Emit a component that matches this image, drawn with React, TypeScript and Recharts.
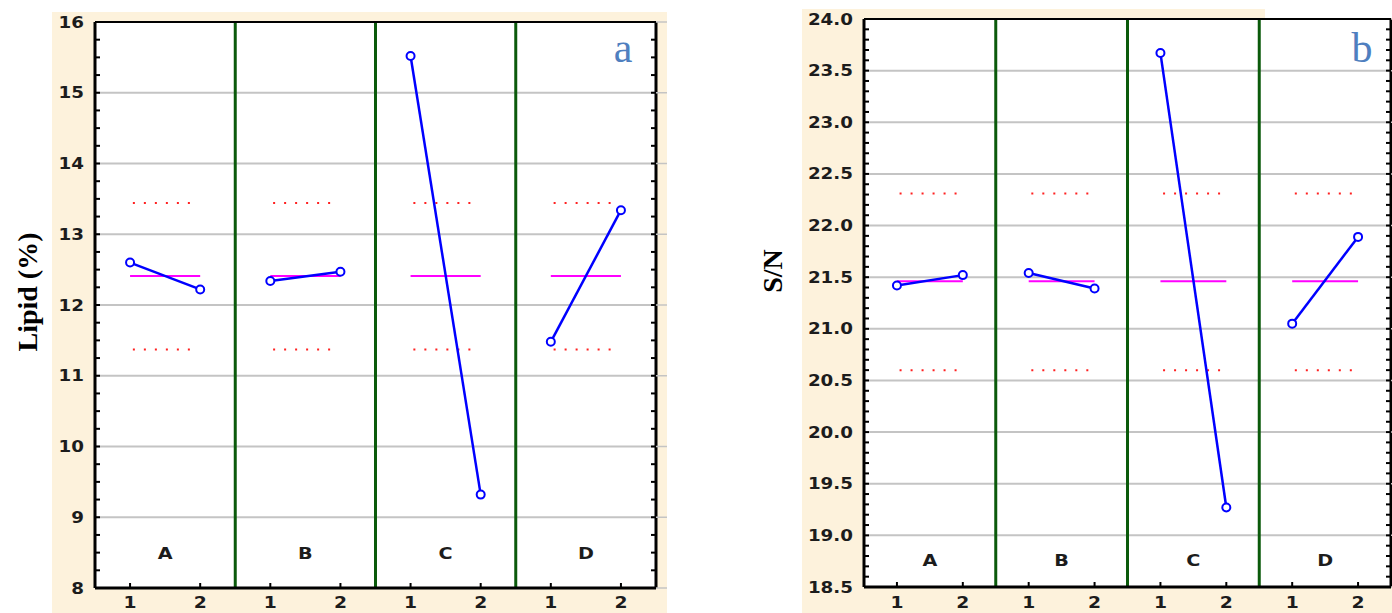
import React from 'react';
import { LineChart, Line, XAxis, YAxis, ReferenceLine, ReferenceArea, LabelList } from 'recharts';

// ---------- data ----------
const categories = ['A', 'B', 'C', 'D'];
const levelLabels = ['1', '2'];

const lipidLevel1 = [12.6, 12.34, 15.52, 11.48];
const lipidLevel2 = [12.22, 12.47, 9.32, 13.34];
const lipidMean = 12.41;
const lipidUpper = 13.44;
const lipidLower = 11.37;
const lipidMajorTicks = [8, 9, 10, 11, 12, 13, 14, 15, 16];

const snLevel1 = [21.42, 21.54, 23.67, 21.05];
const snLevel2 = [21.52, 21.39, 19.27, 21.89];
const snMean = 21.46;
const snUpper = 22.31;
const snLower = 20.6;
const snMajorTicks = [18.5, 19.0, 19.5, 20.0, 20.5, 21.0, 21.5, 22.0, 22.5, 23.0, 23.5, 24.0];

// ---------- helpers ----------
const minorList = (min: number, max: number, step: number) => {
  const out: number[] = [];
  const n = Math.round((max - min) / step);
  for (let i = 0; i <= n; i++) out.push(Math.round((min + i * step) * 1000) / 1000);
  return out;
};

const TICK_FONT = { fontFamily: 'DejaVu Sans', fontWeight: 'bold' as const, fontSize: 15, fill: '#1c1c1c' };
const BLUE = '#0000ff';
const MAGENTA = '#ff00ff';
const RED = '#ff2020';
const GREEN = '#0b5a0b';
const GRID = '#c4c4c4';

const isMajor = (majors: number[], v: number) => majors.some((m) => Math.abs(m - v) < 1e-6);

type PanelProps = {
  width: number;
  height: number;
  margin: { top: number; right: number; bottom: number; left: number };
  level1: number[];
  level2: number[];
  mean: number;
  upper: number;
  lower: number;
  domain: [number, number];
  majors: number[];
  minorStep: number;
  fmt: (v: number) => string;
  catY: number;
  redFrom: number;
  redTo: number;
  labelDrop: number;
};

const Panel = (p: PanelProps) => {
  const allTicks = minorList(p.domain[0], p.domain[1], p.minorStep);
  const levelTicks: number[] = [];
  categories.forEach((_, i) => {
    levelTicks.push(i + 0.25, i + 0.75);
  });

  const LeftTick = (props: any) => {
    const { x, y, payload } = props;
    const v = payload.value;
    const maj = isMajor(p.majors, v);
    return (
      <g>
        <line x1={x} x2={x + 5} y1={y} y2={y} stroke="#000" strokeWidth={2} />
        {maj && (
          <text x={0} y={0} transform={`translate(${x - 11},${y + 5.5}) scale(1.22,1)`} textAnchor="end" {...TICK_FONT}>
            {p.fmt(v)}
          </text>
        )}
      </g>
    );
  };
  const RightTick = (props: any) => {
    const { x, y, payload } = props;
    const v = payload.value;
    const maj = isMajor(p.majors, v);
    return (
      <g>
        {maj && <line x1={x} x2={x + 11} y1={y} y2={y} stroke={GRID} strokeWidth={1.5} />}
        <line x1={x} x2={x - 5} y1={y} y2={y} stroke="#000" strokeWidth={2} />
      </g>
    );
  };
  const BottomTick = (props: any) => {
    const { x, y, index } = props;
    return (
      <g>
        <line x1={x} x2={x} y1={y} y2={y - 5} stroke="#000" strokeWidth={2} />
        <text x={0} y={0} transform={`translate(${x},${y + p.labelDrop}) scale(1.25,1)`} textAnchor="middle" {...TICK_FONT}>
          {levelLabels[index % 2]}
        </text>
      </g>
    );
  };
  const TopTick = (props: any) => {
    const { x, y } = props;
    return <line x1={x} x2={x} y1={y} y2={y + 5} stroke="#000" strokeWidth={2} />;
  };
  const CatLabel = (props: any) => {
    const { x, y, value } = props;
    return (
      <text x={0} y={0} transform={`translate(${x},${y + 6}) scale(1.2,1)`} textAnchor="middle" fontFamily="DejaVu Sans" fontWeight="bold" fontSize={16} fill="#1c1c1c">
        {value}
      </text>
    );
  };

  const catData = categories.map((c, i) => ({ x: i + 0.5, y: p.catY, name: c }));

  return (
    <LineChart width={p.width} height={p.height} margin={p.margin}>
      <XAxis xAxisId={0} type="number" dataKey="x" domain={[0, 4]} allowDataOverflow ticks={levelTicks} interval={0}
        height={1} tickSize={0} tickMargin={0} tickLine={false} tick={<BottomTick />}
        axisLine={{ stroke: '#000', strokeWidth: 3 }} />
      <XAxis xAxisId="top" orientation="top" type="number" domain={[0, 4]} allowDataOverflow ticks={levelTicks} interval={0}
        height={1} tickSize={0} tickMargin={0} tickLine={false} tick={<TopTick />}
        axisLine={{ stroke: '#000', strokeWidth: 2 }} />
      <YAxis yAxisId={0} type="number" domain={p.domain} allowDataOverflow ticks={allTicks} interval={0}
        width={1} tickSize={0} tickMargin={0} tickLine={false} tick={<LeftTick />}
        axisLine={{ stroke: '#000', strokeWidth: 3 }} />
      <YAxis yAxisId="right" orientation="right" type="number" domain={p.domain} allowDataOverflow ticks={allTicks} interval={0}
        width={1} tickSize={0} tickMargin={0} tickLine={false} tick={<RightTick />}
        axisLine={{ stroke: '#000', strokeWidth: 3 }} />

      <ReferenceArea x1={0} x2={4} y1={p.domain[0]} y2={p.domain[1]} fill="#ffffff" fillOpacity={1} stroke="none" />
      {p.majors.map((m) => (
        <ReferenceLine key={'g' + m} y={m} stroke={GRID} strokeWidth={2} />
      ))}
      {[1, 2, 3].map((s) => (
        <ReferenceLine key={'s' + s} x={s} stroke={GREEN} strokeWidth={3} />
      ))}

      {categories.map((c, i) => (
        <Line key={'u' + c} data={[{ x: i + p.redFrom, y: p.upper }, { x: i + p.redTo, y: p.upper }]} dataKey="y"
          stroke={RED} strokeWidth={2} strokeDasharray="2 9" dot={false} isAnimationActive={false} />
      ))}
      {categories.map((c, i) => (
        <Line key={'l' + c} data={[{ x: i + p.redFrom, y: p.lower }, { x: i + p.redTo, y: p.lower }]} dataKey="y"
          stroke={RED} strokeWidth={2} strokeDasharray="2 9" dot={false} isAnimationActive={false} />
      ))}
      {categories.map((c, i) => (
        <Line key={'m' + c} data={[{ x: i + 0.25, y: p.mean }, { x: i + 0.75, y: p.mean }]} dataKey="y"
          stroke={MAGENTA} strokeWidth={2} dot={false} isAnimationActive={false} />
      ))}
      {categories.map((c, i) => (
        <Line key={'v' + c} data={[{ x: i + 0.25, y: p.level1[i] }, { x: i + 0.75, y: p.level2[i] }]} dataKey="y"
          stroke={BLUE} strokeWidth={2.5} dot={{ r: 4, stroke: BLUE, strokeWidth: 2, fill: '#ffffff' }}
          isAnimationActive={false} />
      ))}
      <Line data={catData} dataKey="y" stroke="none" dot={false} isAnimationActive={false}>
        <LabelList dataKey="name" content={<CatLabel />} />
      </Line>
    </LineChart>
  );
};

export default function App() {
  const BEIGE = '#fdf2dc';
  return (
    <div style={{ position: 'absolute', left: 0, top: 0, width: 1392, height: 613, background: '#fff', overflow: 'hidden' }}>
      <div style={{ position: 'absolute', left: 52, top: 12, width: 615, height: 601, background: BEIGE }} />
      <div style={{ position: 'absolute', left: 802, top: 9, width: 590, height: 604, background: BEIGE }} />
      <div style={{ position: 'absolute', left: 1265, top: 9, width: 127, height: 9, background: '#fff' }} />

      <div style={{ position: 'absolute', left: 0, top: 0 }}>
        <Panel width={700} height={613} margin={{ top: 21, right: 43, bottom: 24, left: 94 }}
          level1={lipidLevel1} level2={lipidLevel2} mean={lipidMean} upper={lipidUpper} lower={lipidLower}
          domain={[8, 16]} majors={lipidMajorTicks} minorStep={0.25} fmt={(v) => String(v)} catY={8.5}
          redFrom={0.27} redTo={0.71} labelDrop={20} />
      </div>
      <div style={{ position: 'absolute', left: 700, top: 0 }}>
        <Panel width={692} height={613} margin={{ top: 18, right: 0, bottom: 25, left: 163 }}
          level1={snLevel1} level2={snLevel2} mean={snMean} upper={snUpper} lower={snLower}
          domain={[18.5, 24]} majors={snMajorTicks} minorStep={0.1} fmt={(v) => v.toFixed(1)} catY={18.76}
          redFrom={0.27} redTo={0.75} labelDrop={21} />
      </div>

      <svg width={1392} height={613} style={{ position: 'absolute', left: 0, top: 0, pointerEvents: 'none' }}>
        <text x={0} y={0} transform="translate(37,292) rotate(-90)" textAnchor="middle" fontFamily="Liberation Serif" fontWeight="bold" fontSize={28} fill="#000">
          Lipid (%)
        </text>
        <text x={0} y={0} transform="translate(782,271) rotate(-90)" textAnchor="middle" fontFamily="Liberation Serif" fontWeight="bold" fontSize={28} fill="#000">
          S/N
        </text>
        <text x={623} y={62} textAnchor="middle" fontFamily="Liberation Serif" fontSize={42} fill="#4f7fbf">a</text>
        <text x={1362} y={62} textAnchor="middle" fontFamily="Liberation Serif" fontSize={42} fill="#4f7fbf">b</text>
      </svg>
    </div>
  );
}
